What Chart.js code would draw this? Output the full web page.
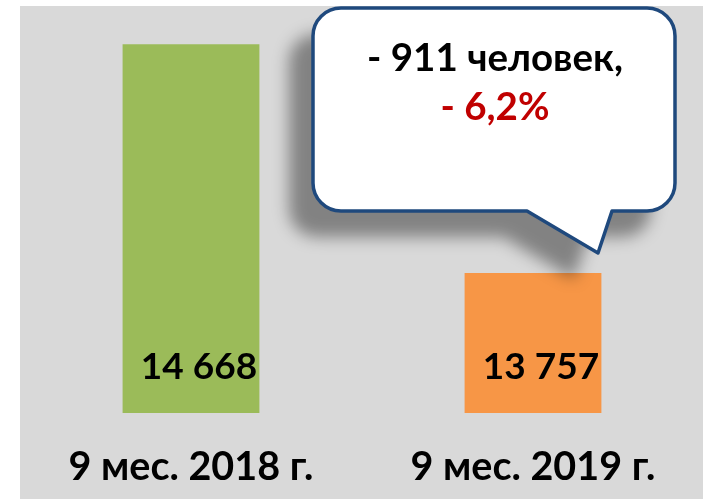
<!DOCTYPE html>
<html>
<head>
<meta charset="utf-8">
<script src="https://cdn.jsdelivr.net/npm/chart.js@4"></script>
<style>
  html, body { margin: 0; padding: 0; background: #ffffff; }
  #wrap { width: 710px; height: 499px; }
</style>
</head>
<body>
<div id="wrap"><canvas id="c" width="710" height="499"></canvas></div>
<script>
const categories = ['9 мес. 2018 г.', '9 мес. 2019 г.'];
const values = [14668, 13757];
const barColors = ['#9BBB59', '#F79646'];
const calloutLines = ['- 911 человек,', '- 6,2%'];
const calloutColors = ['#000000', '#C00000'];

const FONT = 'Lato, "Open Sans", sans-serif';

function fmt(v) {
  const s = String(v);
  let out = '';
  for (let i = 0; i < s.length; i++) {
    if (i > 0 && (s.length - i) % 3 === 0) out += ' ';
    out += s[i];
  }
  return out;
}

const bgPlugin = {
  id: 'bg',
  beforeDraw(chart) {
    const ctx = chart.ctx;
    ctx.save();
    ctx.fillStyle = '#D9D9D9';
    ctx.fillRect(20, 6, 683, 493);
    ctx.restore();
  }
};

const valueLabels = {
  id: 'valueLabels',
  afterDatasetsDraw(chart) {
    const ctx = chart.ctx;
    const meta = chart.getDatasetMeta(0);
    const bottom = chart.chartArea.bottom;
    ctx.save();
    ctx.font = 'bold 37px ' + FONT;
    ctx.fillStyle = '#000000';
    ctx.textAlign = 'center';
    ctx.textBaseline = 'middle';
    for (let i = 0; i < meta.data.length; i++) {
      const bar = meta.data[i];
      ctx.fillText(fmt(values[i]), bar.x + 8, bottom - 46);
    }
    ctx.restore();
  }
};

function calloutPath(ctx) {
  const x0 = 313, y0 = 8, x1 = 675, y1 = 211, r = 28;
  ctx.beginPath();
  ctx.moveTo(x0 + r, y0);
  ctx.lineTo(x1 - r, y0);
  ctx.arcTo(x1, y0, x1, y0 + r, r);
  ctx.lineTo(x1, y1 - r);
  ctx.arcTo(x1, y1, x1 - r, y1, r);
  ctx.lineTo(612, y1);
  ctx.lineTo(598, 253);
  ctx.lineTo(527, y1);
  ctx.lineTo(x0 + r, y1);
  ctx.arcTo(x0, y1, x0, y1 - r, r);
  ctx.lineTo(x0, y0 + r);
  ctx.arcTo(x0, y0, x0 + r, y0, r);
  ctx.closePath();
}

const callout = {
  id: 'callout',
  afterDraw(chart) {
    const ctx = chart.ctx;
    ctx.save();
    ctx.filter = 'blur(8px)';
    ctx.fillStyle = 'rgba(0,0,0,0.40)';
    ctx.translate(-24, 26);
    calloutPath(ctx);
    ctx.fill();
    ctx.restore();

    ctx.save();
    calloutPath(ctx);
    ctx.fillStyle = '#FFFFFF';
    ctx.fill();
    ctx.lineWidth = 3.5;
    ctx.lineJoin = 'round';
    ctx.strokeStyle = '#1F497D';
    ctx.stroke();
    ctx.font = 'bold 38.5px ' + FONT;
    ctx.textAlign = 'center';
    ctx.textBaseline = 'alphabetic';
    ctx.fillStyle = calloutColors[0];
    ctx.fillText(calloutLines[0], 495, 71);
    ctx.fillStyle = calloutColors[1];
    ctx.fillText(calloutLines[1], 495, 120);
    ctx.restore();
  }
};

new Chart(document.getElementById('c'), {
  type: 'bar',
  data: {
    labels: categories,
    datasets: [{
      data: values,
      backgroundColor: barColors,
      borderWidth: 0,
      barPercentage: 0.4,
      categoryPercentage: 1.0
    }]
  },
  options: {
    responsive: false,
    devicePixelRatio: 1,
    animation: false,
    layout: { padding: { left: 20, right: 6, top: 6, bottom: 0 } },
    plugins: { legend: { display: false }, tooltip: { enabled: false } },
    scales: {
      x: {
        grid: { display: false, drawTicks: false },
        border: { display: false },
        ticks: {
          color: '#000',
          font: { family: FONT, size: 39.5, weight: 'bold' },
          padding: 31,
          maxRotation: 0
        },
        afterFit(scale) { scale.height = 86; }
      },
      y: {
        display: false,
        min: 13200,
        max: 14820
      }
    }
  },
  plugins: [bgPlugin, valueLabels, callout]
});
</script>
</body>
</html>
